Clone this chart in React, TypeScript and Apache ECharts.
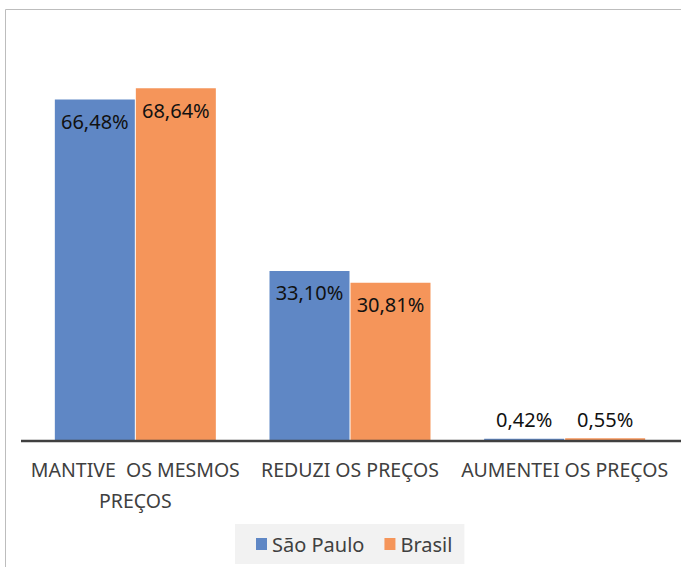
import React, { useEffect, useRef } from "react";
import * as echarts from "echarts";

const categories = ["MANTIVE  OS MESMOS PREÇOS", "REDUZI OS PREÇOS", "AUMENTEI OS PREÇOS"];
const saoPaulo = [66.48, 33.1, 0.42];
const brasil = [68.64, 30.81, 0.55];
const seriesNames = ["São Paulo", "Brasil"];
const colors = ["#5f87c5", "#f5955a"];

const fmt = (v: number) => v.toFixed(2).replace(".", ",") + "%";

export default function App() {
  const ref = useRef<HTMLDivElement>(null);
  useEffect(() => {
    const chart = echarts.init(ref.current!, undefined, { renderer: "svg" });
    const mkData = (vals: number[]) =>
      vals.map((v) => ({
        value: v,
        label: {
          position: v < 5 ? "top" : "insideTop",
          distance: v < 5 ? 9 : 12,
        },
      }));
    const labelBase = {
      show: true,
      fontFamily: "Noto Sans",
      fontSize: 20,
      color: "#111",
      formatter: (p: any) => fmt(p.value),
    };
    chart.setOption({
      animation: false,
      backgroundColor: "#fff",
      textStyle: { fontFamily: "Noto Sans" },
      graphic: [
        {
          type: "rect",
          shape: { x: 5.5, y: 9.5, width: 700, height: 600 },
          style: { fill: "none", stroke: "#bdbdbd", lineWidth: 1 },
          silent: true,
        },
        {
          type: "line",
          shape: { x1: 21, y1: 441, x2: 681, y2: 441 },
          style: { stroke: "#404040", lineWidth: 2.5 },
          z: 10,
          silent: true,
        },
      ],
      grid: { left: 28, right: 9, top: 30, bottom: 126 },
      xAxis: {
        type: "category",
        data: categories,
        axisLine: { show: false },
        axisTick: { show: false },
        axisLabel: {
          interval: 0,
          margin: 13,
          fontFamily: "Noto Sans",
          fontSize: 19.5,
          lineHeight: 31,
          color: "#404040",
          formatter: (v: string) => v.replace("MESMOS ", "MESMOS\n"),
        },
      },
      yAxis: {
        type: "value",
        min: 0,
        max: 80,
        show: false,
        splitLine: { show: false },
      },
      legend: {
        left: 235,
        top: 524,
        padding: [10, 12, 10, 21],
        backgroundColor: "#f2f2f2",
        icon: "rect",
        itemWidth: 11,
        itemHeight: 12,
        itemGap: 20,
        textStyle: { fontFamily: "Noto Sans", fontSize: 20, color: "#404040" },
        data: seriesNames,
      },
      series: [
        {
          name: seriesNames[0],
          type: "bar",
          barWidth: 80,
          barGap: "1.25%",
          itemStyle: { color: colors[0] },
          label: labelBase,
          data: mkData(saoPaulo),
        },
        {
          name: seriesNames[1],
          type: "bar",
          barWidth: 80,
          barGap: "1.25%",
          itemStyle: { color: colors[1] },
          label: labelBase,
          data: mkData(brasil),
        },
      ],
    });
    return () => chart.dispose();
  }, []);
  return (
    <div
      ref={ref}
      style={{ position: "absolute", left: 0, top: 0, width: 681, height: 567 }}
    />
  );
}
